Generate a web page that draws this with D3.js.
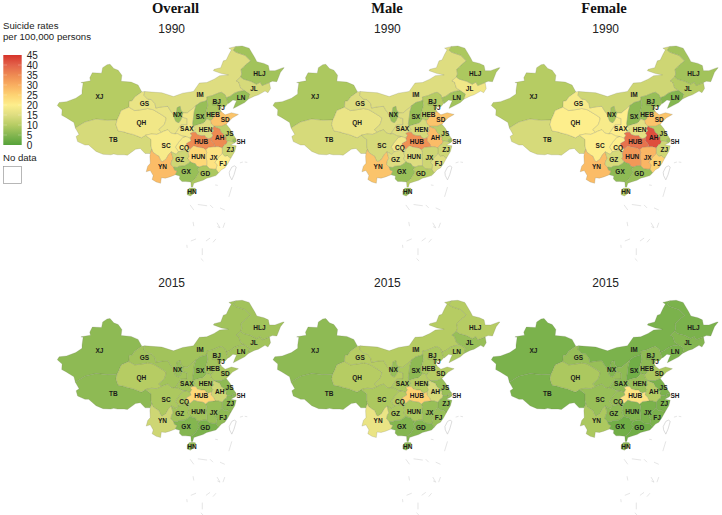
<!DOCTYPE html>
<html><head><meta charset="utf-8">
<script src="https://cdn.jsdelivr.net/npm/d3@7"></script>
<style>html,body{margin:0;background:#fff}svg{display:block}</style></head>
<body><svg id="c" width="722" height="515"></svg>
<script>
const provinces=["XJ","TB","QH","GS","IM","NX","SAX","SX","HEB","BJ","TJ","LN","JL","HLJ","SD","HEN","JS","AH","SH","ZJ","FJ","JX","HUB","CQ","SC","YN","GZ","HUN","GX","GD","HN"];
const overall1990=[10,14,18,17,15,7,18,7,9,7,11,7,14,8,27,15,11,35,7,13,20,22,35,19,19,28,13,24,7,9,8];
const male1990=[9,14,17,15,15,7,15,7,10,8,11,8,18,9,27,14,11,28,7,13,15,13,34,18,14,27,15,15,7,10,7];
const female1990=[10,14,20,19,13,8,20,6,7,6,10,5,10,8,27,16,10,42,8,13,25,29,38,20,20,28,14,33,6,7,10];
const overall2015=[6,6,10,8,8,7,8,6,8,8,8,8,8,8,9,9,6,13,6,6,6,7,24,9,9,13,8,8,5,4,7];
const male2015=[6,6,10,10,10,7,9,6,9,9,9,9,7,10,10,10,7,14,7,6,7,7,25,10,9,17,9,9,5,5,6];
const female2015=[4,4,9,7,4,5,6,3,6,5,6,4,5,4,9,7,4,10,4,4,4,4,22,7,7,9,6,5,3,3,6];
const panelColumns=["Overall","Male","Female"];
const panelYears=["1990","2015"];
const panelValues=[[overall1990,male1990,female1990],[overall2015,male2015,female2015]];
const legendTicks=[0,5,10,15,20,25,30,35,40,45];
const colorStops=[0,5,10,15,20,25,30,35,40,45];
const colorRange=["#55a23a","#84b650","#b6cc63","#dedd80","#fdee8c","#fdd272","#f9ae60","#ee8a52","#e3624a","#d6332a"];

// province outlines, [longitude, latitude]
const outlines={
XJ:[[73.5,39.5],[74,40.2],[76,40.4],[78.5,41.2],[80.2,42.2],[80.2,43],[80.5,44.8],[79.9,44.9],[82.5,45.3],[82.3,46],[83,47.2],[85.5,47.1],[85.8,48.4],[87,49.1],[87.8,49.2],[88.8,48.2],[90,47.8],[91,46.6],[90.8,45.2],[93.5,45],[95.4,44.3],[96.4,42.7],[94.5,41.5],[93.8,40.6],[93,40.5],[92.9,39.1],[90.8,38.3],[90.2,37],[89.7,36.1],[87,36],[84,36.3],[81,35.6],[80.2,35.2],[78.4,34.2],[78,35.5],[75.8,36.7],[74.7,37.2],[74.8,38.5]],
TB:[[78.4,34.2],[80.2,35.2],[81,35.6],[84,36.3],[87,36],[89.7,36.1],[89.4,35],[90,33.5],[91.5,33.3],[92.5,33],[94,32.7],[95.2,32.3],[96.3,31.9],[97.4,32.5],[98.9,31.5],[98.9,30],[99.1,29.2],[98.7,28.2],[97.3,28.2],[96,29.4],[94.7,29.2],[92.5,27.8],[91.6,27.9],[89.8,27.9],[88.8,28.1],[88,27.9],[85.9,28],[84,28.7],[82,30.2],[81,30.2],[79,31],[78.6,32.2],[79.4,32.7]],
QH:[[89.7,36.1],[90.2,37],[90.8,38.3],[92.9,39.1],[94.5,38.3],[97,38.6],[98,38.8],[99.5,38.5],[100.5,38],[102,37.2],[103,36.6],[102.9,36],[102.5,35],[101,33.8],[101.8,33.2],[100.5,32.7],[99,32.8],[97.4,32.5],[96.3,31.9],[95.2,32.3],[94,32.7],[92.5,33],[91.5,33.3],[90,33.5],[89.4,35]],
GS:[[92.9,39.1],[93,40.5],[93.8,40.6],[94.5,41.5],[96.4,42.7],[97.2,42.8],[97,41.9],[98,41],[99,40.9],[100,39.9],[100.2,38.9],[102,39.2],[103.5,39.3],[104,38.5],[104.9,37.4],[105.2,36.7],[105.6,35.8],[106.2,35.5],[106.5,35.5],[106.9,36],[107.3,36.8],[108.7,36.4],[108.7,35],[107,34.9],[106.5,34.2],[105.8,33.3],[105.4,32.8],[104.3,33],[103.5,33.8],[102.2,33.4],[101.8,33.2],[101,33.8],[102.5,35],[102.9,36],[103,36.6],[102,37.2],[100.5,38],[99.5,38.5],[98,38.8],[97,38.6],[94.5,38.3]],
IM:[[97.2,42.8],[100,42.6],[101.8,42.5],[105,41.6],[107.5,42.4],[110.4,42.8],[112,44.8],[114,44.9],[116,45.7],[117.5,46.5],[119.9,46.7],[118,47],[115.8,47.7],[116,48],[117.8,48.4],[118.5,50],[119.3,50.2],[120,51.5],[120.7,52.6],[120,53],[121.9,53.4],[121.2,52.5],[122,52],[124.4,51.3],[125.9,50],[124.5,49],[124,48.5],[123.3,48],[123.5,46.9],[123.2,46.2],[122.8,45.9],[122,45.3],[122.7,45],[123.2,43.6],[124.3,43],[122.7,42.8],[121.5,42.4],[120.4,41.7],[119.3,41.3],[119,42],[118,42.6],[117.4,42.5],[116,42],[115.5,41.8],[114,41.5],[114.1,40.8],[113.5,40.5],[112.2,40.2],[111.3,39.6],[111.1,39.5],[110.5,39],[108.7,37.7],[107.6,37.8],[107,38.4],[106.8,39.3],[106,39],[105.8,37.9],[104.9,37.4],[104,38.5],[103.5,39.3],[102,39.2],[100.2,38.9],[100,39.9],[99,40.9],[98,41],[97,41.9]],
NX:[[106.8,39.3],[107,38.4],[107.6,37.8],[107.3,36.8],[106.9,36],[106.5,35.5],[106.2,35.5],[105.6,35.8],[105.2,36.7],[104.9,37.4],[105.8,37.9],[106,39]],
SAX:[[107.3,36.8],[107.6,37.8],[108.7,37.7],[110.5,39],[111.1,39.5],[110.6,38],[110.4,36.5],[110.2,35.3],[110.3,34.6],[111,34],[110.2,33.2],[109.5,32.9],[110,32.5],[109.5,31.8],[108.3,32.2],[107.3,32.3],[106,32.9],[105.4,32.8],[105.8,33.3],[106.5,34.2],[107,34.9],[108.7,35],[108.7,36.4]],
SX:[[111.1,39.5],[111.3,39.6],[112.2,40.2],[113.5,40.5],[114.1,40.8],[114.3,39.5],[113.7,37.8],[113.6,37],[114,36.3],[113.5,35.7],[113,35.3],[112,35.1],[110.3,34.6],[110.2,35.3],[110.4,36.5],[110.6,38]],
HEB:[[114.1,40.8],[114,41.5],[115.5,41.8],[116,42],[117.4,42.5],[118,42.6],[119,42],[119.3,41.3],[119.8,40],[119,39.2],[118,39.2],[117.6,38.6],[118,38],[117.5,38],[116.3,37.5],[115.5,36.2],[115,36],[114,36.3],[113.6,37],[113.7,37.8],[114.3,39.5]],
BJ:[[115.5,40],[116,40.8],[117,40.7],[117.5,40.2],[116.8,39.6],[116.2,39.5],[115.5,39.6]],
TJ:[[117.5,40.2],[117.8,39.3],[117.8,38.7],[117.2,38.6],[116.9,39.2],[117.1,39.7]],
LN:[[119.8,40],[119.3,41.3],[120.4,41.7],[121.5,42.4],[122.7,42.8],[124.3,43],[125,42.6],[125.7,42.2],[125.3,41],[124.3,40.2],[123,39.6],[121.2,38.8],[121.7,39.9],[122.1,40.6],[121.1,40.8],[120,40]],
JL:[[122.8,45.9],[123.2,46.2],[124,45.7],[126,45.2],[127.5,44.5],[128.5,45],[129,44.2],[131,44.9],[131.3,43.5],[130.6,42.5],[129.8,42.9],[128,42],[126.9,41.7],[125.3,41],[125.7,42.2],[125,42.6],[124.3,43],[123.2,43.6],[122.7,45],[122,45.3]],
HLJ:[[121.9,53.4],[123.6,53.5],[125.5,53],[127,50.8],[127.6,49.8],[129.5,49.4],[130.7,48.9],[131,47.7],[132.5,47.7],[134.7,48.4],[135,48.4],[134,47.3],[133,45.1],[131.8,45.2],[131,44.9],[129,44.2],[128.5,45],[127.5,44.5],[126,45.2],[124,45.7],[123.2,46.2],[123.5,46.9],[123.3,48],[124,48.5],[124.5,49],[125.9,50],[124.4,51.3],[122,52],[121.2,52.5]],
SD:[[115.5,36.2],[116.3,37.5],[117.5,38],[118,38],[119,37.3],[120.7,37.8],[122.6,37.4],[121,36.6],[120.3,36],[119.3,35.1],[118,34.6],[117,34.6],[116,34.6],[115.2,35.2],[115,36]],
HEN:[[110.3,34.6],[112,35.1],[113,35.3],[113.5,35.7],[114,36.3],[115,36],[115.2,35.2],[116,34.6],[115.5,34],[116,33.6],[115.3,33],[115.7,32.5],[115.3,31.9],[114.5,31.7],[113.8,31.9],[113.5,32.4],[112.5,32.4],[111.5,32.6],[111,33.2],[110.2,33.2],[111,34]],
JS:[[116,34.6],[117,34.6],[118,34.6],[119.3,35.1],[120.3,34],[120.9,33],[121.9,31.7],[121.1,31.5],[120.9,31],[120,31.1],[119.6,31.1],[119.2,31.4],[119.3,32.2],[118.4,31.9],[118.7,32.6],[117.9,33.2],[117.5,34],[116.5,34.3]],
AH:[[116,34.6],[116.5,34.3],[117.5,34],[117.9,33.2],[118.7,32.6],[118.4,31.9],[119.3,32.2],[119.2,31.4],[119.6,31.1],[119.3,30.4],[118.9,30.3],[118.2,29.5],[117.2,29.8],[116.3,29.8],[115.9,30.6],[115.2,31.2],[115.3,31.9],[115.7,32.5],[115.3,33],[116,33.6],[115.5,34]],
SH:[[120.9,31],[121.1,31.5],[121.9,31.7],[122,31],[121.5,30.7]],
ZJ:[[119.6,31.1],[120,31.1],[120.9,31],[121.5,30.7],[120.5,30.2],[122,30],[121.6,28.7],[120.6,27.2],[120.2,27.2],[119.6,27.7],[118.9,27.5],[118.2,28.2],[118.2,29.5],[118.9,30.3],[119.3,30.4]],
FJ:[[118.2,28.2],[118.9,27.5],[119.6,27.7],[120.2,27.2],[120.6,27.2],[119.7,25.8],[118.9,24.8],[118,24.4],[117.2,23.6],[116.5,24.5],[116.8,25.5],[116.2,26.1],[117.2,27.3],[117.8,27.9]],
JX:[[118.2,29.5],[118.2,28.2],[117.8,27.9],[117.2,27.3],[116.2,26.1],[116.8,25.5],[116.5,24.5],[115.9,24.5],[114.8,24.6],[114,25.3],[114,26.5],[113.8,27.5],[114,28.5],[113.7,29.1],[114.5,29.7],[115.9,29.8],[116.3,29.8],[117.2,29.8]],
HUB:[[109.5,31.8],[110,32.5],[109.5,32.9],[110.2,33.2],[111,33.2],[111.5,32.6],[112.5,32.4],[113.5,32.4],[113.8,31.9],[114.5,31.7],[115.3,31.9],[115.2,31.2],[115.9,30.6],[116.3,29.8],[115.9,29.8],[114.5,29.7],[113.7,29.1],[113,29.5],[111.5,29.7],[110.5,30],[109.5,29.2],[108.5,29.9],[108.5,30.6],[109.7,31.2]],
CQ:[[109.5,31.8],[109.7,31.2],[108.5,30.6],[108.5,29.9],[109.5,29.2],[109,28.3],[108.3,29],[107.2,28.8],[106.3,28.6],[105.9,29.2],[105.5,29.7],[106.1,30.5],[106.5,31],[107.5,32],[108.3,32.2]],
SC:[[97.4,32.5],[99,32.8],[100.5,32.7],[101.8,33.2],[102.2,33.4],[103.5,33.8],[104.3,33],[105.4,32.8],[106,32.9],[107.3,32.3],[108.3,32.2],[107.5,32],[106.5,31],[106.1,30.5],[105.5,29.7],[105.9,29.2],[106.3,28.6],[105.7,28],[104.4,28.6],[103.7,28],[102.9,26.8],[102,26.3],[101.6,26.4],[101,27.6],[100.5,27.8],[99.4,28.5],[99.1,29.2],[98.9,30],[98.9,31.5]],
YN:[[98.7,28.2],[99.1,29.2],[99.4,28.5],[100.5,27.8],[101,27.6],[101.6,26.4],[102,26.3],[102.9,26.8],[103.7,28],[104.4,28.6],[104.9,27],[104.5,26.5],[104.3,25.6],[105,25],[105.3,24.3],[106,24.1],[105.5,23.2],[104,22.7],[102.8,22.4],[101.7,22.5],[101.5,21.2],[100.3,21.5],[99.2,22.1],[99.5,23],[98.7,24.2],[97.6,23.9],[98,25.2],[98.7,25.9],[98.6,27.5]],
GZ:[[104.4,28.6],[105.7,28],[106.3,28.6],[107.2,28.8],[108.3,29],[109,28.3],[109.2,27.5],[108.9,27],[109.5,26.3],[109,25.8],[108,25.3],[106.5,25.2],[106,24.9],[105,25],[104.3,25.6],[104.5,26.5],[104.9,27]],
HUN:[[109.5,29.2],[110.5,30],[111.5,29.7],[113,29.5],[113.7,29.1],[114,28.5],[113.8,27.5],[114,26.5],[114,25.3],[113,25.3],[112,25],[111.3,25.2],[110.9,25.8],[110,26],[109.5,26.3],[108.9,27],[109.2,27.5],[109,28.3]],
GX:[[106,24.9],[106.5,25.2],[108,25.3],[109,25.8],[109.5,26.3],[110,26],[110.9,25.8],[111.3,25.2],[112,25],[111.5,24.4],[112,23.9],[111.4,23],[110.8,22.2],[110,21.6],[109.7,21.5],[108.3,21.6],[107.3,21.6],[106.6,22.2],[106.7,22.9],[105.5,23.2],[106,24.1],[105.3,24.3],[105,25]],
GD:[[112,25],[113,25.3],[114,25.3],[114.8,24.6],[115.9,24.5],[116.5,24.5],[117.2,23.6],[116.5,23],[115,22.6],[114,22.4],[113,21.9],[111.5,21.5],[110.5,21.2],[110.2,20.3],[109.8,20.3],[109.7,21.5],[110,21.6],[110.8,22.2],[111.4,23],[112,23.9],[111.5,24.4]],
HN:[[108.7,19.3],[109.2,20],[110,20.1],[110.9,20],[111,19.6],[110.5,18.8],[109.6,18.2],[108.7,18.5]]
};
const taiwan=[[121.5,25.3],[122,25],[121.4,23.2],[120.8,22],[120.2,23],[120.1,23.8],[120.8,25]];
const islands=[[[123,26],[123.8,26.2]],[[124.3,26.2],[125,26.1]],[[116.3,20.8],[117,20.7]],[[120.8,20.3],[120,18]],[[109.5,16.1],[110.5,14.9]],[[111.6,16.2],[114.1,15.9]],[[114.9,16.1],[115.7,15.4]],[[117.6,15.4],[118.9,14.9]],[[110.3,12.1],[110.5,11.1]],[[116.8,11.9],[117.6,10.7],[116.9,11]],[[118.9,11.9],[118.4,10.7]],[[108.6,6.7],[108.7,6]],[[109.7,7.6],[111.1,8.1]],[[113.8,7.6],[114.9,8.3]],[[115.7,7.3],[116.5,8.1]],[[112.8,5.9],[112.8,4.3]],[[112.4,3.5],[113.1,2.9]]];
const labelPoints={XJ:[84.9,41.7],GS:[97.1,40],IM:[112.2,42],HLJ:[128.3,47],JL:[126.8,43.5],LN:[123.3,41.4],BJ:[116.7,40.5],TJ:[117.9,39],HEB:[115.7,37.4],NX:[106.1,37.3],SX:[112.2,37],SD:[119,36.2],QH:[96.3,35.4],SAX:[108.6,34],HEN:[113.7,33.9],JS:[120.2,32.9],AH:[117.5,32],TB:[88.7,31.6],HUB:[112.5,31.1],SH:[123.3,31.1],SC:[103,30.1],CQ:[107.9,29.7],ZJ:[120.4,29.2],HUN:[111.7,27.4],JX:[115.9,27.2],GZ:[106.7,26.8],FJ:[118.4,25.9],YN:[102,25.1],GX:[108.4,23.9],GD:[113.6,23.5],HN:[110,19.2]};

const svg=d3.select("#c");
const sans="'Liberation Sans',Arial,sans-serif";
const color=d3.scaleLinear().domain(colorStops).range(colorRange);
const lonScale=d3.scaleLinear().domain([73.5,135]).range([57.3,284.2]);
const latScale=d3.scaleLinear().domain([53.5,18.2]).range([46,196]);
const path=d3.geoPath(d3.geoTransform({point(x,y){this.stream.point(lonScale(x),latScale(y));}}));
const colX=d3.scaleOrdinal().domain(panelColumns).range([0,215.7,434]);
const rowY=d3.scaleOrdinal().domain(panelYears).range([0,254.3]);
const poly=c=>({type:"Polygon",coordinates:[[...c,c[0]]]});
const line=c=>({type:"LineString",coordinates:c});

// titles
[["Overall",175.5,13],["Male",387,13],["Female",604,13]].forEach(([t,x,y])=>
  svg.append("text").attr("x",x).attr("y",y).attr("text-anchor","middle")
    .attr("font-family","'Liberation Serif',serif").attr("font-weight","bold").attr("font-size",14.6).attr("fill","#111").text(t));

panelYears.forEach((yr,ri)=>panelColumns.forEach((col,ci)=>{
  const vals=panelValues[ri][ci];
  const g=svg.append("g").attr("transform",`translate(${colX(col)},${rowY(yr)})`);
  svg.append("text").attr("x",colX(col)+171.7).attr("y",rowY(yr)+33).attr("text-anchor","middle")
    .attr("font-family",sans).attr("font-size",12).attr("fill","#222").text(yr);
  g.append("path").datum(poly(taiwan)).attr("d",path).attr("fill","#fff").attr("stroke","#c4c4c4").attr("stroke-width",.6);
  g.selectAll("path.isl").data(islands).join("path").attr("class","isl").attr("d",d=>path(line(d)))
    .attr("fill","none").attr("stroke","#d4d4d4").attr("stroke-width",.6);
  g.selectAll("path.prov").data(provinces).join("path").attr("class","prov")
    .attr("d",p=>path(poly(outlines[p])))
    .attr("fill",(p,i)=>color(vals[i])).attr("stroke","#6f7558").attr("stroke-opacity",.5).attr("stroke-width",.4).attr("stroke-linejoin","round");
  g.selectAll("text").data(provinces).join("text")
    .attr("x",p=>lonScale(labelPoints[p][0])).attr("y",p=>latScale(labelPoints[p][1])+2.5)
    .attr("text-anchor","middle").attr("font-family",sans).attr("font-size",6.5)
    .attr("font-weight","bold").attr("fill","#1a1a1a").text(p=>p);
}));

// legend
const leg=svg.append("g").attr("font-family",sans).attr("fill","#222");
leg.append("text").attr("x",3).attr("y",29).attr("font-size",9.6).text("Suicide rates");
leg.append("text").attr("x",3).attr("y",40).attr("font-size",9.6).text("per 100,000 persons");
const legendY=d3.scaleLinear().domain([0,45]).range([145,55]);
const grad=svg.append("defs").append("linearGradient").attr("id","lg").attr("x1",0).attr("y1",1).attr("x2",0).attr("y2",0);
colorStops.forEach((s,i)=>grad.append("stop").attr("offset",s/45).attr("stop-color",colorRange[i]));
leg.append("rect").attr("x",3.3).attr("y",55).attr("width",18.4).attr("height",90).attr("fill","url(#lg)");
leg.selectAll("line").data(legendTicks.slice(1,-1)).join("line").attr("x1",3.3).attr("x2",7).attr("y1",legendY).attr("y2",legendY).attr("stroke","#fff").attr("stroke-opacity",.5).attr("stroke-width",.5);
leg.selectAll("line.r").data(legendTicks.slice(1,-1)).join("line").attr("class","r").attr("x1",18).attr("x2",21.7).attr("y1",legendY).attr("y2",legendY).attr("stroke","#fff").attr("stroke-opacity",.5).attr("stroke-width",.5);
const ax=svg.append("g").attr("transform","translate(21.7,0)").call(d3.axisRight(legendY).tickValues(legendTicks).tickSize(0).tickPadding(5));
ax.select(".domain").remove();
ax.selectAll("text").attr("font-family",sans).attr("font-size",10).attr("fill","#222");
leg.append("text").attr("x",3).attr("y",160.5).attr("font-size",9.6).text("No data");
leg.append("rect").attr("x",3.5).attr("y",166.5).attr("width",18).attr("height",17).attr("fill","#fff").attr("stroke","#999").attr("stroke-width",.7);
</script></body></html>
